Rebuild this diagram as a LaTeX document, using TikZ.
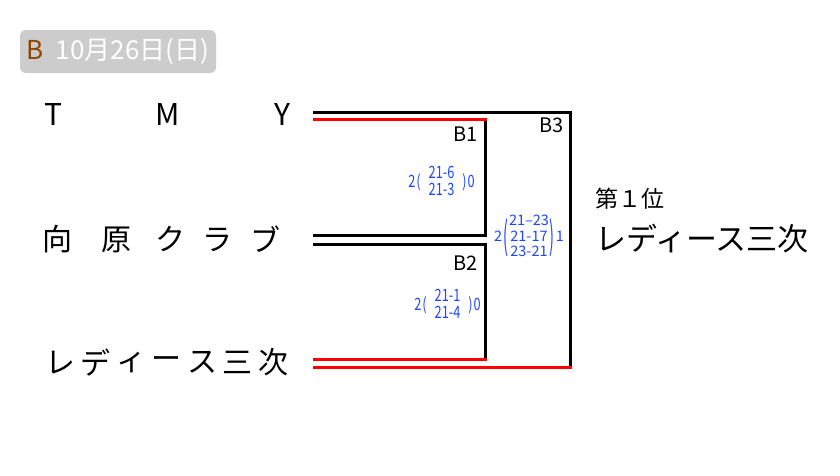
\documentclass[tikz,border=0pt]{standalone}
\usepackage{fontspec}
\usepackage{graphicx}
\setmainfont{Noto Sans CJK JP}
\newfontfamily\scorefont[FakeStretch=0.75]{Noto Sans CJK JP}
\newfontfamily\finalfont{Noto Sans CJK JP}
\usetikzlibrary{positioning}
\definecolor{headgray}{RGB}{204,204,204}
\definecolor{dayB}{RGB}{140,70,0}
\definecolor{scoreblue}{RGB}{30,70,255}
\newcommand{\tallparen}[1]{$\vcenter{\hbox{\scalebox{1}[2.6]{#1}}}$}

\begin{document}
\begin{tikzpicture}[
    x=1pt, y=-1pt,
    team/.style={inner sep=0pt, font=\fontsize{30}{30}\selectfont},
    line/.style={line width=3pt},
    win/.style={line, red},
    game/.style={inner sep=0pt, font=\fontsize{20}{20}\selectfont},
    score/.style={inner sep=0pt, text=scoreblue, font=\scorefont\fontsize{17}{15.5}\selectfont}
  ]
    \useasboundingbox (0,0) rectangle (840,475);

    % date tag
    \node[fill=headgray, rounded corners=6pt, minimum width=196pt, minimum height=43pt, inner sep=0pt,
          text=white, font=\fontsize{26}{26}\selectfont] (day) at (118,51.5)
          {\textcolor{dayB}{B}\hspace{12pt}10月26日(日)};

    % teams
    \foreach \ch/\x [count=\i] in {T/53.5, M/167.5, Y/282}
      \node[team] (tmy-\i) at (\x,114) {\ch};
    \foreach \ch/\x [count=\i] in {向/57, 原/116, ク/170, ラ/217, ブ/265}
      \node[team] (mk-\i) at (\x,239.5) {\ch};
    \foreach \ch [count=\i] in {レ, デ, ィ, ー, ス, 三, 次}
      \node[team] (ls-\i) at (24.5+35.5*\i,362.5) {\ch};

    % bracket ends
    \coordinate (b3-top) at (313,112);
    \coordinate (b1-top) at (313,119);
    \coordinate (b1-bot) at (313,235);
    \coordinate (b2-top) at (313,244);
    \coordinate (b2-bot) at (313,359);
    \coordinate (b3-bot) at (313,367);
    \coordinate (b12-x) at (485,0);
    \coordinate (b3-x) at (570,0);

    % B1
    \draw[line] (b1-top) -| (b12-x |- b1-bot) -- (b1-bot);
    \draw[win] (b1-top) -- ([xshift=1.5pt]b12-x |- b1-top);
    % B2
    \draw[line] (b2-top) -| (b12-x |- b2-bot) -- (b2-bot);
    \draw[win] (b2-bot) -- ([xshift=1.5pt]b12-x |- b2-bot);
    % B3
    \draw[line] (b3-top) -| (b3-x |- b3-bot) -- (b3-bot);
    \draw[win] (b3-bot) -- ([xshift=1.5pt]b3-x |- b3-bot);

    % game labels
    \node[game, anchor=east] (g1) at (478,134.5) {B1};
    \node[game, anchor=east] (g2) at (478,263) {B2};
    \node[game, anchor=east] (g3) at (564,125.5) {B3};

    % scores
    \node[score] (s1) at (441.5,183.5)
      {2\hspace{1pt}(\hspace{8pt}\begin{tabular}{@{}c@{}}21-6\\21-3\end{tabular}\hspace{8pt})\hspace{1pt}0};
    \node[score] (s2) at (447.5,306.5)
      {2\hspace{1pt}(\hspace{8pt}\begin{tabular}{@{}c@{}}21-1\\21-4\end{tabular}\hspace{8pt})\hspace{1pt}0};
    \node[score, font=\finalfont\fontsize{14.5}{15}\selectfont] (s3) at (529,238)
      {2\hspace{1pt}\tallparen{(}\hspace{1pt}$\vcenter{\hbox{\begin{tabular}{@{}c@{}}21–23\\21-17\\23-21\end{tabular}}}$\hspace{1pt}\tallparen{)}\hspace{1pt}1};

    % result
    \node[inner sep=0pt, anchor=west, font=\fontsize{23}{23}\selectfont] (rank) at (595,199) {第１位};
    \node[inner sep=0pt, anchor=west, font=\fontsize{31}{31}\selectfont] (champ) at (595,239) {レディース三次};
  \end{tikzpicture}
\end{document}
